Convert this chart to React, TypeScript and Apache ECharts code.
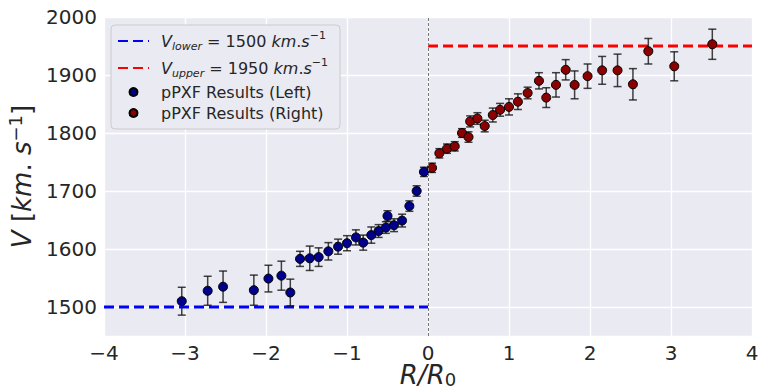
import React, { useEffect, useRef } from 'react';
import * as echarts from 'echarts';

const leftR = [-3.04, -2.72, -2.53, -2.15, -1.97, -1.81, -1.7, -1.58, -1.46, -1.35, -1.23, -1.11, -1.0, -0.89, -0.8, -0.7, -0.61, -0.52, -0.5, -0.42, -0.32, -0.23, -0.14, -0.05];
const leftV = [1510, 1528, 1535, 1529, 1549, 1554, 1525, 1583, 1584, 1586, 1596, 1604, 1610, 1620, 1611, 1624, 1631, 1637, 1657, 1641, 1649, 1674, 1700, 1733];
const leftErr = [24, 25, 27, 26, 23, 25, 23, 13, 21, 16, 15, 13, 13, 13, 13, 14, 11, 10, 9, 11, 11, 9, 9, 8];

const rightR = [0.05, 0.14, 0.235, 0.33, 0.42, 0.5, 0.52, 0.61, 0.7, 0.8, 0.89, 1.0, 1.11, 1.23, 1.37, 1.46, 1.58, 1.7, 1.81, 1.97, 2.15, 2.34, 2.53, 2.72, 3.04, 3.51];
const rightV = [1740, 1765, 1773, 1777, 1800, 1793, 1820, 1825, 1812, 1831, 1840, 1845, 1854, 1869, 1890, 1861, 1883, 1909, 1883, 1898, 1908, 1908, 1884, 1941, 1915, 1953];
const rightErr = [8, 8, 8, 8, 7.5, 9, 9.5, 10, 10, 12, 11, 14, 13.5, 10, 14, 17, 21, 17.5, 24, 21, 24, 28, 27, 22, 25, 26];

const vLower = 1500;
const vUpper = 1950;
const xMin = -4;
const xMax = 4;
const yMin = 1450;
const yMax = 2000;

const FONT = 'DejaVu Sans';
const TXT = '#262626';

export default function App() {
  const ref = useRef<HTMLDivElement>(null);
  useEffect(() => {
    const chart = echarts.init(ref.current!, null, { renderer: 'svg' });

    const errSeries = (name: string, xs: number[], ys: number[], es: number[]) => ({
      type: 'custom',
      name,
      data: xs.map((x, i) => [x, ys[i] - es[i], ys[i] + es[i]]),
      encode: { x: 0, y: [1, 2] },
      silent: true,
      z: 3,
      renderItem: (params: any, api: any) => {
        const x = api.value(0);
        const p1 = api.coord([x, api.value(1)]);
        const p2 = api.coord([x, api.value(2)]);
        const c = 4;
        const style = { stroke: 'rgba(20,20,20,0.8)', lineWidth: 1.5 };
        return {
          type: 'group',
          children: [
            { type: 'line', shape: { x1: p1[0], y1: p1[1], x2: p2[0], y2: p2[1] }, style },
            { type: 'line', shape: { x1: p1[0] - c, y1: p1[1], x2: p1[0] + c, y2: p1[1] }, style },
            { type: 'line', shape: { x1: p2[0] - c, y1: p2[1], x2: p2[0] + c, y2: p2[1] }, style },
          ],
        };
      },
    });

    const legendText: Record<string, string> = {
      Vlower: '{i|V}{sub|lower}{n| = 1500 }{i|km}{n|.}{i|s}{sup|−1}',
      Vupper: '{i|V}{sub|upper}{n| = 1950 }{i|km}{n|.}{i|s}{sup|−1}',
      'pPXF Results (Left)': '{n|pPXF Results (Left)}',
      'pPXF Results (Right)': '{n|pPXF Results (Right)}',
    };

    chart.setOption({
      animation: false,
      backgroundColor: '#ffffff',
      textStyle: { fontFamily: FONT },
      grid: {
        left: 104, right: 11, top: 17, bottom: 54,
        containLabel: false, outerBoundsMode: 'none',
        show: true, backgroundColor: '#EAEAF2', borderWidth: 0,
      },
      xAxis: {
        type: 'value',
        min: xMin,
        max: xMax,
        interval: 1,
        axisLine: { show: false },
        axisTick: { show: false },
        splitLine: { lineStyle: { color: '#ffffff', width: 1.3 } },
        axisLabel: {
          fontSize: 20,
          lineHeight: 18,
          color: TXT,
          fontFamily: FONT,
          margin: 8,
          formatter: (v: number) => String(v).replace('-', '−'),
        },
        name: '{i|R/R}{sub|0}',
        nameLocation: 'middle',
        nameGap: 26,
        nameMoveOverlap: false,
        nameTextStyle: {
          rich: {
            i: { fontSize: 26, fontStyle: 'italic', color: TXT, fontFamily: FONT, lineHeight: 26 },
            sub: { fontSize: 18, color: TXT, fontFamily: FONT, verticalAlign: 'bottom', lineHeight: 14 },
          },
        },
      },
      yAxis: {
        type: 'value',
        min: yMin,
        max: yMax,
        splitNumber: 5,
        axisLine: { show: false },
        axisTick: { show: false },
        splitLine: { lineStyle: { color: '#ffffff', width: 1.3 } },
        axisLabel: {
          fontSize: 20, color: TXT, fontFamily: FONT, margin: 7, showMinLabel: false,
          formatter: (v: number) => String(v),
        },
        name: '{i|V}{n| [}{i|km}{n|. }{i|s}{sup|−1}{n|]}',
        nameLocation: 'middle',
        nameRotate: 90,
        nameGap: 44,
        nameTextStyle: {
          rich: {
            i: { fontSize: 26, fontStyle: 'italic', color: TXT, fontFamily: FONT, lineHeight: 32 },
            n: { fontSize: 26, color: TXT, fontFamily: FONT, lineHeight: 32 },
            sup: { fontSize: 18, color: TXT, fontFamily: FONT, verticalAlign: 'top', lineHeight: 16 },
          },
        },
      },
      legend: {
        left: 111,
        top: 25,
        orient: 'vertical',
        data: [
          { name: 'Vlower', itemStyle: { opacity: 0 } },
          { name: 'Vupper', itemStyle: { opacity: 0 } },
          'pPXF Results (Left)',
          'pPXF Results (Right)',
        ],
        itemWidth: 31,
        itemHeight: 8,
        itemGap: 5,
        padding: [5, 12, 8, 6],
        backgroundColor: '#EAEAF2',
        borderColor: '#CCCCCC',
        borderWidth: 1,
        borderRadius: 4,
        formatter: (name: string) => legendText[name] || name,
        textStyle: {
          padding: [0, 0, 0, 7],
          rich: {
            n: { fontSize: 16, color: TXT, fontFamily: FONT, lineHeight: 22 },
            i: { fontSize: 16, fontStyle: 'italic', color: TXT, fontFamily: FONT, lineHeight: 22 },
            sub: { fontSize: 11, fontStyle: 'italic', color: TXT, fontFamily: FONT, verticalAlign: 'bottom', lineHeight: 11 },
            sup: { fontSize: 11, color: TXT, fontFamily: FONT, verticalAlign: 'top', lineHeight: 11 },
          },
        },
      },
      series: [
        {
          name: 'Vlower',
          type: 'line',
          data: [[xMin, vLower], [0, vLower]],
          symbol: 'none',
          lineStyle: { color: '#0000FF', width: 3, type: [10, 5] },
          itemStyle: { color: '#0000FF' },
          z: 2,
          silent: true,
        },
        {
          name: 'Vupper',
          type: 'line',
          data: [[0, vUpper], [xMax, vUpper]],
          symbol: 'none',
          lineStyle: { color: '#FF0000', width: 3, type: [10, 5] },
          itemStyle: { color: '#FF0000' },
          z: 2,
          silent: true,
        },
        errSeries('errLeft', leftR, leftV, leftErr),
        errSeries('errRight', rightR, rightV, rightErr),
        {
          name: 'pPXF Results (Left)',
          type: 'scatter',
          data: leftR.map((x, i) => [x, leftV[i]]),
          symbolSize: 9,
          itemStyle: { color: '#00008B', borderColor: '#000000', borderWidth: 1, opacity: 1 },
          z: 4,
          markLine: {
            silent: true,
            symbol: 'none',
            label: { show: false },
            lineStyle: { color: '#777777', width: 1, type: [3, 2] },
            data: [{ xAxis: 0 }],
          },
        },
        {
          name: 'pPXF Results (Right)',
          type: 'scatter',
          data: rightR.map((x, i) => [x, rightV[i]]),
          symbolSize: 9,
          itemStyle: { color: '#8B0000', borderColor: '#000000', borderWidth: 1, opacity: 1 },
          z: 4,
        },
      ],
    });
    return () => chart.dispose();
  }, []);
  return <div ref={ref} style={{ position: 'fixed', left: 0, top: 0, width: 763, height: 390 }} />;
}
